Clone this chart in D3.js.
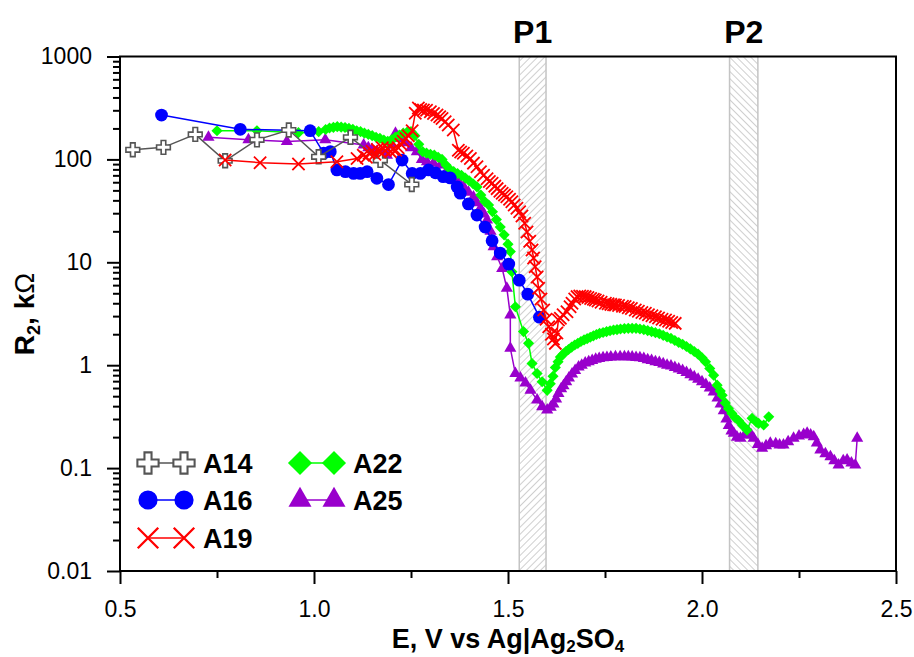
<!DOCTYPE html>
<html><head><meta charset="utf-8">
<script src="https://cdn.jsdelivr.net/npm/d3@7"></script>
<style>
body{margin:0;background:#fff}
svg{display:block}
text{font-family:"Liberation Sans",Arial,Helvetica,sans-serif}
</style>
</head><body>
<svg id="chart" width="914" height="657"></svg>
<script>
// ---------------- DATA ----------------
const seriesNames = ["A14", "A16", "A19", "A22", "A25"];

// [E (V vs Ag|Ag2SO4), R2 (kOhm)]
const a14 = [[0.533,124],[0.612,131],[0.694,175],[0.771,97],[0.853,155],[0.935,193],[1.012,106],[1.094,164],[1.171,98],[1.252,57]];

const a16 = [[0.607,270],[0.810,196],[0.990,190],[1.025,115],[1.042,119],[1.059,79],[1.081,76],[1.102,73],[1.119,73],[1.137,76],[1.162,65.5],[1.192,57],[1.227,98.6],[1.253,73],[1.274,73],[1.295,79],[1.313,74],[1.333,68],[1.351,66],[1.369,54],[1.377,47],[1.398,36.9],[1.420,28.8],[1.441,22],[1.459,16.2],[1.480,12.3],[1.502,9.6],[1.529,6.7],[1.551,4.9],[1.581,2.93]];

const a19 = [[0.771,98.6],[0.861,93],[0.960,90],[1.059,95],[1.111,102],[1.127,110],[1.135,105],[1.142,115],[1.150,120],[1.157,112],[1.163,125],[1.170,118],[1.176,130],[1.183,122],[1.190,128],[1.197,119],[1.204,125],[1.211,123],[1.217,130],[1.224,140],[1.230,150],[1.237,160],[1.243,170],[1.253,190],[1.261,281],[1.269,316],[1.275,305],[1.282,302],[1.290,300],[1.300,291],[1.308,280],[1.317,270],[1.324,260],[1.330,250],[1.338,232],[1.346,216],[1.359,193],[1.372,123],[1.378,118],[1.385,115],[1.394,108],[1.403,102],[1.411,92],[1.420,85],[1.429,76],[1.437,70],[1.446,65],[1.452,61],[1.459,58.6],[1.466,55],[1.472,52],[1.479,49],[1.485,46.9],[1.491,45],[1.497,43.4],[1.504,41],[1.510,38.8],[1.516,36],[1.523,33.5],[1.530,31],[1.536,28.2],[1.543,24],[1.549,19.7],[1.556,16],[1.562,13.2],[1.566,11],[1.570,9.06],[1.575,7.2],[1.579,5.6],[1.585,4.4],[1.592,3.44],[1.598,2.8],[1.605,2.37],[1.612,2.0],[1.617,1.8],[1.622,1.63],[1.626,2.06],[1.630,2.75],[1.635,2.86],[1.642,3.1],[1.652,3.31],[1.660,3.7],[1.665,4.0],[1.672,4.4],[1.678,4.64],[1.685,4.7],[1.692,4.68],[1.699,4.64],[1.706,4.55],[1.713,4.45],[1.720,4.38],[1.725,4.3],[1.732,4.2],[1.740,4.1],[1.751,4.0],[1.758,3.95],[1.765,3.9],[1.772,3.87],[1.777,3.85],[1.785,3.8],[1.795,3.74],[1.802,3.71],[1.810,3.62],[1.818,3.55],[1.828,3.44],[1.836,3.35],[1.845,3.26],[1.854,3.19],[1.862,3.1],[1.871,3.02],[1.880,2.96],[1.888,2.87],[1.897,2.8],[1.906,2.75],[1.914,2.67],[1.922,2.6],[1.931,2.55]];

const a22 = [[0.750,190],[0.853,190],[0.960,182],[1.012,186],[1.030,195],[1.040,202],[1.050,205],[1.060,208],[1.070,206],[1.080,204],[1.090,200],[1.100,196],[1.110,190],[1.120,186],[1.130,180],[1.140,175],[1.150,170],[1.160,164],[1.170,160],[1.180,154],[1.190,150],[1.200,155],[1.210,165],[1.220,172],[1.230,180],[1.240,184],[1.250,186],[1.260,170],[1.270,140],[1.280,119],[1.290,115],[1.300,112],[1.310,110],[1.320,105],[1.330,100],[1.340,88],[1.350,80],[1.360,76],[1.370,73],[1.380,70],[1.390,66],[1.400,62],[1.410,58],[1.420,54],[1.430,45],[1.440,39],[1.450,36],[1.460,31],[1.470,26],[1.480,22],[1.490,18.5],[1.500,15],[1.506,12.7],[1.510,8.1],[1.519,3.7],[1.540,2.12],[1.553,1.63],[1.562,1.04],[1.575,0.83],[1.588,0.69],[1.601,0.57],[1.609,0.66],[1.616,0.78],[1.622,0.95],[1.629,1.08],[1.635,1.2],[1.642,1.28],[1.649,1.36],[1.656,1.42],[1.664,1.5],[1.672,1.57],[1.680,1.63],[1.688,1.7],[1.696,1.76],[1.704,1.81],[1.712,1.87],[1.720,1.93],[1.728,1.99],[1.736,2.04],[1.745,2.08],[1.754,2.12],[1.763,2.16],[1.772,2.2],[1.781,2.22],[1.790,2.25],[1.800,2.27],[1.810,2.28],[1.820,2.28],[1.830,2.28],[1.840,2.25],[1.850,2.22],[1.860,2.17],[1.870,2.12],[1.880,2.07],[1.890,2.02],[1.900,1.95],[1.910,1.88],[1.920,1.82],[1.930,1.74],[1.940,1.66],[1.950,1.6],[1.960,1.52],[1.970,1.44],[1.980,1.36],[1.990,1.28],[2.000,1.18],[2.009,1.08],[2.020,0.93],[2.030,0.8],[2.039,0.64],[2.047,0.56],[2.052,0.51],[2.060,0.43],[2.068,0.38],[2.077,0.34],[2.085,0.31],[2.094,0.29],[2.105,0.26],[2.116,0.234],[2.129,0.305],[2.140,0.28],[2.146,0.272],[2.159,0.262],[2.172,0.315]];

const a25 = [[0.728,164],[0.831,155],[0.930,149],[1.029,155],[1.128,138],[1.140,130],[1.150,125],[1.162,119],[1.175,114],[1.188,110],[1.200,140],[1.210,179],[1.222,160],[1.235,145],[1.250,130],[1.265,119],[1.278,100],[1.291,95],[1.308,92],[1.326,88],[1.343,78],[1.360,68],[1.373,61],[1.386,54],[1.398,48],[1.411,43],[1.420,38],[1.429,33.5],[1.438,29.5],[1.446,25.8],[1.455,20],[1.463,14.2],[1.472,11.3],[1.485,8.7],[1.497,5.6],[1.506,3.07],[1.506,1.46],[1.519,0.83],[1.532,0.75],[1.545,0.67],[1.558,0.57],[1.575,0.46],[1.588,0.395],[1.601,0.367],[1.610,0.39],[1.617,0.42],[1.624,0.47],[1.630,0.53],[1.637,0.59],[1.643,0.63],[1.650,0.69],[1.657,0.75],[1.665,0.82],[1.673,0.89],[1.682,0.96],[1.690,1.0],[1.699,1.05],[1.708,1.08],[1.717,1.11],[1.726,1.14],[1.735,1.16],[1.745,1.18],[1.755,1.19],[1.765,1.2],[1.777,1.21],[1.789,1.21],[1.800,1.21],[1.810,1.21],[1.820,1.2],[1.830,1.19],[1.840,1.18],[1.850,1.16],[1.860,1.13],[1.870,1.11],[1.880,1.08],[1.890,1.06],[1.900,1.03],[1.910,1.0],[1.920,0.98],[1.930,0.95],[1.940,0.92],[1.950,0.89],[1.960,0.85],[1.970,0.81],[1.980,0.77],[1.990,0.73],[2.000,0.69],[2.010,0.65],[2.020,0.6],[2.030,0.55],[2.040,0.48],[2.048,0.42],[2.056,0.36],[2.063,0.3],[2.069,0.26],[2.076,0.23],[2.082,0.218],[2.090,0.2],[2.099,0.195],[2.110,0.21],[2.120,0.226],[2.127,0.21],[2.133,0.195],[2.144,0.17],[2.155,0.156],[2.165,0.165],[2.176,0.174],[2.190,0.172],[2.200,0.168],[2.210,0.168],[2.222,0.18],[2.236,0.195],[2.250,0.205],[2.262,0.212],[2.271,0.218],[2.280,0.21],[2.288,0.202],[2.296,0.175],[2.305,0.150],[2.318,0.138],[2.331,0.129],[2.341,0.118],[2.352,0.107],[2.364,0.118],[2.374,0.12],[2.385,0.112],[2.395,0.107],[2.400,0.195]];

const xTicks = [0.5, 1.0, 1.5, 2.0, 2.5];
const xMinorTicks = [0.75, 1.25, 1.75, 2.25];
const yTicks = [0.01, 0.1, 1, 10, 100, 1000];
const yTickLabels = ["0.01", "0.1", "1", "10", "100", "1000"];
const bandLabels = ["P1", "P2"];
const bandStarts = [1.529, 2.071];
const bandEnds = [1.598, 2.144];

// ---------------- CHART ----------------
const svg = d3.select("#chart");
const L = 120, R = 896, T = 56.5, B = 571;
const x = d3.scaleLinear().domain([0.5, 2.5]).range([L, R]);
const y = d3.scaleLog().domain([0.01, 1000]).range([B, T]);

const seriesData = {A14: a14, A16: a16, A19: a19, A22: a22, A25: a25};
const colors = {A14: "#555555", A16: "#0000ff", A19: "#ff0000", A22: "#00ff00", A25: "#9900cc"};

const symbolXShape = {draw(ctx, size) {const r = Math.sqrt(size) / 2; ctx.moveTo(-r, -r); ctx.lineTo(r, r); ctx.moveTo(r, -r); ctx.lineTo(-r, r);}};
const styles = {
  A14: {type: d3.symbolCross, size: 105, lsize: 250, fill: "#fff", stroke: "#555555", sw: 1.6, rot: 0},
  A16: {type: d3.symbolCircle, size: 128, lsize: 290, fill: "#0000ff", stroke: "none", sw: 0, rot: 0},
  A19: {type: symbolXShape, size: 150, lsize: 420, fill: "none", stroke: "#ff0000", sw: 1.8, rot: 0},
  A22: {type: d3.symbolSquare, size: 62, lsize: 290, fill: "#00ff00", stroke: "none", sw: 0, rot: 45},
  A25: {type: d3.symbolTriangle, size: 64, lsize: 230, fill: "#9900cc", stroke: "none", sw: 0, rot: 0}
};

// hatch patterns
const defs = svg.append("defs");
[45, -45].forEach((ang, i) => {
  const p = defs.append("pattern").attr("id", "hatch" + i)
    .attr("patternUnits", "userSpaceOnUse").attr("width", 5).attr("height", 5)
    .attr("patternTransform", `rotate(${ang})`);
  p.append("rect").attr("width", 5).attr("height", 5).attr("fill", "#fff");
  p.append("line").attr("x1", 0).attr("y1", 0).attr("x2", 0).attr("y2", 5)
    .attr("stroke", "#a8a8a8").attr("stroke-width", 1.1);
});

// bands
bandLabels.forEach((lab, i) => {
  svg.append("rect").attr("x", x(bandStarts[i])).attr("y", T)
    .attr("width", x(bandEnds[i]) - x(bandStarts[i])).attr("height", B - T)
    .attr("fill", `url(#hatch${i})`).attr("stroke", "#c4c4c4").attr("stroke-width", 1.5);
  svg.append("text").attr("x", (x(bandStarts[i]) + x(bandEnds[i])) / 2).attr("y", 43)
    .attr("text-anchor", "middle").attr("font-size", 32).attr("font-weight", "bold").text(lab);
});

// series
const line = d3.line().x(d => x(d[0])).y(d => y(d[1]));
const order = ["A25", "A22", "A16", "A14", "A19"];
order.forEach(name => {
  const data = seriesData[name], st = styles[name];
  const g = svg.append("g");
  g.append("path").datum(data).attr("d", line).attr("fill", "none")
    .attr("stroke", colors[name]).attr("stroke-width", 1.5);
  const sym = d3.symbol().type(st.type).size(st.size);
  g.selectAll("path.m").data(data).join("path").attr("class", "m")
    .attr("d", sym)
    .attr("transform", d => `translate(${x(d[0])},${y(d[1])}) rotate(${st.rot})`)
    .attr("fill", st.fill).attr("stroke", st.stroke).attr("stroke-width", st.sw);
});

// frame
svg.append("rect").attr("x", L).attr("y", T).attr("width", R - L).attr("height", B - T)
  .attr("fill", "none").attr("stroke", "#000").attr("stroke-width", 2);

// axes
const xAxis = svg.append("g").attr("transform", `translate(0,${B})`)
  .call(d3.axisBottom(x).tickValues(xTicks).tickFormat(d3.format(".1f")).tickSize(13).tickSizeOuter(0).tickPadding(17));
const xMinor = svg.append("g").attr("transform", `translate(0,${B})`)
  .call(d3.axisBottom(x).tickValues(xMinorTicks).tickFormat("").tickSize(7).tickSizeOuter(0));
const yAxis = svg.append("g").attr("transform", `translate(${L},0)`)
  .call(d3.axisLeft(y).tickValues(yTicks).tickFormat((d, i) => yTickLabels[i]).tickSize(13).tickSizeOuter(0).tickPadding(15));
const yMinorVals = [];
yTicks.slice(0, -1).forEach(d => { for (let k = 2; k <= 9; k++) yMinorVals.push(d * k); });
const yMinor = svg.append("g").attr("transform", `translate(${L},0)`)
  .call(d3.axisLeft(y).tickValues(yMinorVals).tickFormat("").tickSize(7).tickSizeOuter(0));
[xAxis, xMinor, yAxis, yMinor].forEach(g => {
  g.select(".domain").remove();
  g.selectAll(".tick line").attr("stroke", "#000").attr("stroke-width", 2);
  g.selectAll(".tick text").attr("font-size", 23).attr("fill", "#000")
    .style("font-family", '"Liberation Sans",Arial,sans-serif');
});

// axis titles
const xt = svg.append("text").attr("x", 508).attr("y", 647.5).attr("text-anchor", "middle")
  .attr("font-size", 27).attr("font-weight", "bold");
xt.append("tspan").text("E, V vs Ag|Ag");
xt.append("tspan").attr("font-size", 17).attr("dy", 4).text("2");
xt.append("tspan").attr("dy", -4).text("SO");
xt.append("tspan").attr("font-size", 17).attr("dy", 4).text("4");

const yt = svg.append("text").attr("transform", "translate(34,314) rotate(-90)")
  .attr("text-anchor", "middle").attr("font-size", 28).attr("font-weight", "bold");
yt.append("tspan").text("R");
yt.append("tspan").attr("font-size", 18).attr("dy", 6).text("2");
yt.append("tspan").attr("dy", -6).text(", k");
yt.append("tspan").attr("font-weight", "normal").text("Ω");

// legend
const legCols = [[148, 184, 203], [300, 334, 353]];
const legRows = [463, 500, 538];
const legendPos = {A14: [0, 0], A16: [0, 1], A19: [0, 2], A22: [1, 0], A25: [1, 1]};
seriesNames.forEach(name => {
  const [c, r] = legendPos[name], st = styles[name];
  const cx = legCols[c], cy = legRows[r];
  const g = svg.append("g");
  g.append("line").attr("x1", cx[0]).attr("x2", cx[1]).attr("y1", cy).attr("y2", cy)
    .attr("stroke", colors[name]).attr("stroke-width", 1.5);
  const sym = d3.symbol().type(st.type).size(st.lsize);
  [cx[0], cx[1]].forEach(px => {
    g.append("path").attr("d", sym).attr("transform", `translate(${px},${cy}) rotate(${st.rot})`)
      .attr("fill", st.fill).attr("stroke", st.stroke).attr("stroke-width", st.sw ? st.sw * 1.3 : 0);
  });
  g.append("text").attr("x", cx[2]).attr("y", cy).attr("dy", "0.36em")
    .attr("font-size", 27).attr("font-weight", "bold").text(name);
});
</script>
</body></html>
